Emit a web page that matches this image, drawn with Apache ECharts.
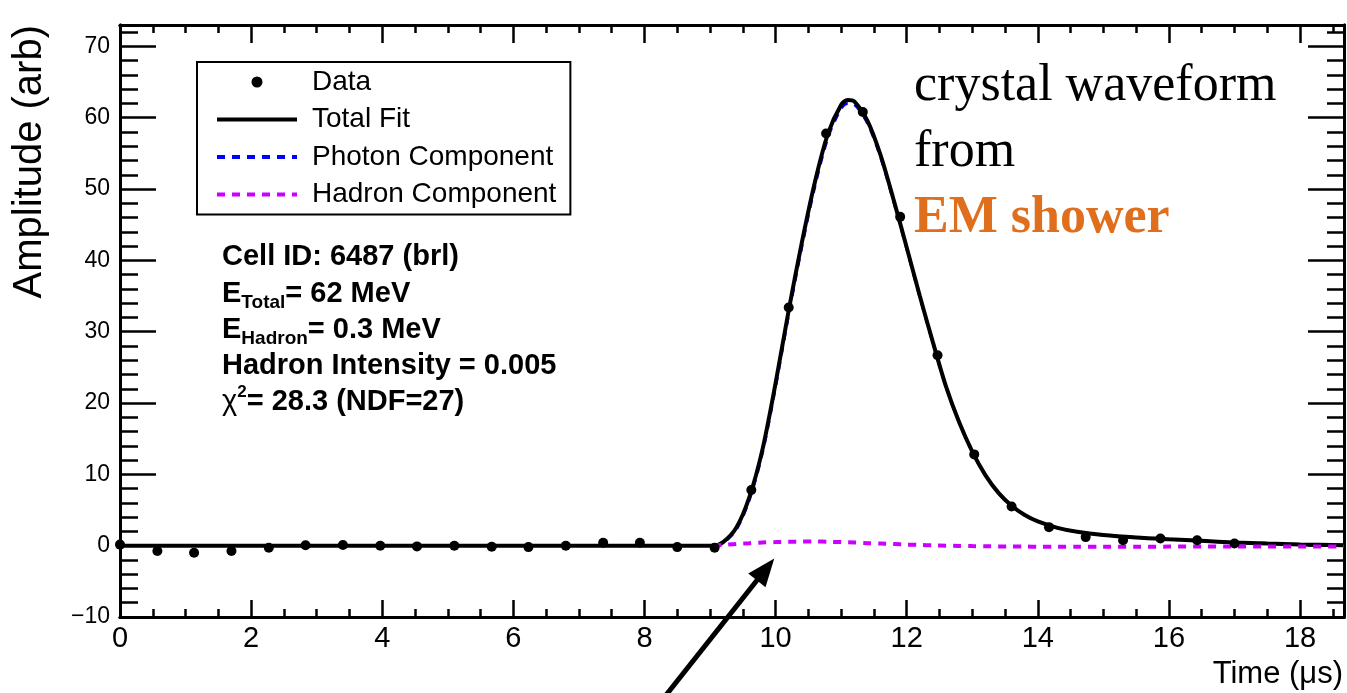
<!DOCTYPE html>
<html>
<head>
<meta charset="utf-8">
<script src="https://cdn.jsdelivr.net/npm/echarts@6/dist/echarts.min.js"></script>
<style>
html,body{margin:0;padding:0;background:#fff;}
#chart{width:1347px;height:693px;}
</style>
</head>
<body>
<div id="chart"></div>
<script>
// ---- data ----
const sampleTimes = [0.00, 0.57, 1.13, 1.70, 2.27, 2.83, 3.40, 3.97, 4.53, 5.10, 5.67, 6.23, 6.80, 7.37, 7.93, 8.50,
                     9.07, 9.63, 10.20, 10.77, 11.33, 11.90, 12.47, 13.03, 13.60, 14.17, 14.73, 15.30, 15.87, 16.43, 17.00];
const sampleAmps  = [0.15, -0.75, -1.0, -0.75, -0.3, 0.05, 0.1, 0.0, -0.1, 0.0, -0.15, -0.2, 0.0, 0.4, 0.4, -0.2,
                     -0.3, 7.8, 33.4, 57.8, 60.8, 46.1, 26.7, 12.8, 5.5, 2.6, 1.2, 0.75, 1.0, 0.75, 0.3];

const fitTimes  = [0, 9.05, 9.2, 9.4, 9.6, 9.8, 10.0, 10.2, 10.4, 10.6, 10.8, 11.0, 11.1, 11.2, 11.4, 11.6, 11.8, 12.0,
                   12.2, 12.4, 12.6, 12.8, 13.0, 13.2, 13.4, 13.6, 13.8, 14.0, 14.3, 14.6, 15.0, 15.5, 16.0, 16.5,
                   17.0, 17.5, 18.0, 18.67];
const totalFit  = [0, 0, 0.5, 2.5, 6.8, 13.5, 22.8, 33.0, 42.5, 51.0, 57.8, 61.8, 62.5, 62.3, 59.6, 54.8, 48.5, 41.8,
                   35.0, 28.5, 22.3, 17.3, 13.2, 9.9, 7.4, 5.6, 4.3, 3.4, 2.5, 1.95, 1.5, 1.15, 0.9, 0.68,
                   0.45, 0.3, 0.17, 0.06];

const compTimes = [9.05, 9.2, 9.4, 9.6, 9.8, 10.0, 10.2, 10.4, 10.6, 10.8, 11.0, 11.1, 11.2, 11.4, 11.6, 11.8, 12.0,
                   12.2, 12.4, 12.6, 12.8, 13.0, 13.2, 13.4, 13.6, 13.8, 14.0, 14.3, 14.6, 15.0, 15.5, 16.0, 16.5,
                   17.0, 17.5, 18.0, 18.67];
const photonFit = [0, 0.4, 2.25, 6.45, 13.05, 22.3, 32.45, 41.9, 50.4, 57.25, 61.3, 62.0, 61.85, 59.25, 54.5, 48.3, 41.65,
                   34.9, 28.45, 22.3, 17.3, 13.2, 9.9, 7.4, 5.6, 4.3, 3.4, 2.5, 1.95, 1.5, 1.15, 0.9, 0.68,
                   0.45, 0.3, 0.17, 0.06];
const hadronFit = [0, 0.1, 0.25, 0.35, 0.45, 0.5, 0.55, 0.58, 0.6, 0.55, 0.5, 0.48, 0.45, 0.35, 0.3, 0.22, 0.15,
                   0.1, 0.05, 0.0, -0.03, -0.06, -0.08, -0.1, -0.12, -0.13, -0.14, -0.15, -0.15, -0.15, -0.15, -0.13, -0.12,
                   -0.1, -0.1, -0.1, -0.1];

const xMin = 0, xMax = 18.67, xMajor = 2, xMinor = 0.5;
const yMin = -10, yMax = 73, yMajor = 10, yMinor = 2;

const infoLines = ['Cell ID: 6487 (brl)', 'E|Total|= 62 MeV', 'E|Hadron|= 0.3 MeV', 'Hadron Intensity = 0.005', 'χ|2|= 28.3 (NDF=27)'];
const noteLines = ['crystal waveform', 'from', 'EM shower'];
const arrowTip = [9.98, -1.8];

// ---- helpers ----
const SANS = '"Liberation Sans", Arial, Helvetica, sans-serif';
const SERIF = '"Liberation Serif", "Times New Roman", serif';
function pairs(xs, ys) { return xs.map((x, i) => [x, ys[i]]); }

const chart = echarts.init(document.getElementById('chart'), null, {renderer: 'canvas'});

function xAxisDef(pos, interval, tickLen, showLabel, extra) {
  return Object.assign({
    type: 'value', position: pos, min: xMin, max: xMax, interval: interval,
    axisLine: {show: true, onZero: false, lineStyle: {color: '#000', width: 3}},
    axisTick: {show: true, inside: true, length: tickLen, lineStyle: {color: '#000', width: 2.5}},
    axisLabel: {show: showLabel},
    splitLine: {show: false}
  }, extra || {});
}
function yAxisDef(pos, interval, tickLen, showLabel, extra) {
  return Object.assign({
    type: 'value', position: pos, min: yMin, max: yMax, interval: interval,
    axisLine: {show: true, onZero: false, lineStyle: {color: '#000', width: 3}},
    axisTick: {show: true, inside: true, length: tickLen, lineStyle: {color: '#000', width: 2.5}},
    axisLabel: {show: showLabel},
    splitLine: {show: false}
  }, extra || {});
}

const option = {
  animation: false,
  backgroundColor: '#fff',
  grid: {left: 120, right: 2, top: 25, bottom: 76, containLabel: false},
  xAxis: [
    xAxisDef('bottom', xMajor, 17, true, {
      axisLabel: {show: true, margin: 7, color: '#000', fontSize: 29, fontFamily: SANS,
        formatter: v => (Math.abs(v / xMajor - Math.round(v / xMajor)) < 1e-6 ? String(Math.round(v)) : '')},
      name: 'Time (μs)', nameLocation: 'end', nameGap: -1,
      nameTextStyle: {fontSize: 31, fontFamily: SANS, color: '#000', align: 'right', verticalAlign: 'top', padding: [42, 0, 0, 0]}
    }),
    xAxisDef('bottom', xMinor, 8, false),
    xAxisDef('top', xMajor, 18, false),
    xAxisDef('top', xMinor, 8, false)
  ],
  yAxis: [
    yAxisDef('left', yMajor, 36, true, {
      axisLabel: {show: true, margin: 10, color: '#000', fontSize: 23, fontFamily: SANS,
        formatter: v => (Math.abs(v / yMajor - Math.round(v / yMajor)) < 1e-6 ? String(Math.round(v)).replace('-', '\u2212') : '')},
      name: 'Amplitude (arb)', nameLocation: 'end', nameGap: 0, nameRotate: 90,
      nameTextStyle: {fontSize: 40, fontFamily: SANS, color: '#000', align: 'right', verticalAlign: 'bottom', padding: [0, 0, 70, 0]}
    }),
    yAxisDef('left', yMinor, 18, false),
    yAxisDef('right', yMajor, 36, false),
    yAxisDef('right', yMinor, 17, false)
  ],
  legend: {
    orient: 'vertical', left: 197, top: 62,
    padding: [6, 14, 6, 18],
    itemWidth: 80, itemHeight: 11, itemGap: 9.5,
    borderColor: '#000', borderWidth: 2, backgroundColor: '#fff',
    selectedMode: false,
    textStyle: {fontFamily: SANS, fontSize: 28, color: '#000', lineHeight: 27, padding: [0, 0, 0, 10]},
    itemStyle: {opacity: 0},
    lineStyle: {width: 'inherit'},
    data: [{name: 'Data', itemStyle: {opacity: 1}}, 'Total Fit',
           {name: 'Photon Component', lineStyle: {width: 4}}, 'Hadron Component']
  },
  series: [
    {
      name: 'Photon Component', type: 'line', xAxisIndex: 0, yAxisIndex: 0,
      data: pairs(compTimes, photonFit), smooth: 0.3, symbol: 'none', z: 2,
      lineStyle: {color: '#0000ff', width: 3, type: [8, 7]}, itemStyle: {color: '#0000ff'}
    },
    {
      name: 'Total Fit', type: 'line', xAxisIndex: 0, yAxisIndex: 0,
      data: pairs(fitTimes, totalFit), smooth: 0.3, symbol: 'none', z: 3,
      lineStyle: {color: '#000', width: 4}, itemStyle: {color: '#000'}
    },
    {
      name: 'Hadron Component', type: 'line', xAxisIndex: 0, yAxisIndex: 0,
      data: pairs(compTimes, hadronFit), smooth: 0.3, symbol: 'none', z: 4,
      lineStyle: {color: '#cc00ff', width: 4, type: [8, 7]}, itemStyle: {color: '#cc00ff'}
    },
    {
      name: 'Data', type: 'scatter', xAxisIndex: 0, yAxisIndex: 0,
      data: pairs(sampleTimes, sampleAmps), symbol: 'circle', symbolSize: 10, z: 5,
      itemStyle: {color: '#000', opacity: 1}
    }
  ]
};
chart.setOption(option);

// ---- annotations ----
const graphics = [];
const infoY = [257, 294, 330, 366, 402];
const richStyles = {
  b: {fontFamily: SANS, fontWeight: 'bold', fontSize: 29, lineHeight: 36, fill: '#000', verticalAlign: 'middle'},
  s: {fontFamily: SANS, fontWeight: 'bold', fontSize: 19, lineHeight: 37, fill: '#000', verticalAlign: 'bottom'},
  p: {fontFamily: SANS, fontWeight: 'bold', fontSize: 17, lineHeight: 36, fill: '#000', verticalAlign: 'top'},
  c: {fontFamily: SANS, fontWeight: 'normal', fontSize: 29, lineHeight: 36, fill: '#000', verticalAlign: 'middle'}
};
infoLines.forEach((line, i) => {
  const parts = line.split('|');
  let txt;
  if (parts.length === 1) txt = '{b|' + parts[0] + '}';
  else if (parts[0] === 'χ') txt = '{c|' + parts[0] + '}{p|' + parts[1] + '}{b|' + parts[2] + '}';
  else txt = '{b|' + parts[0] + '}{s|' + parts[1] + '}{b|' + parts[2] + '}';
  graphics.push({
    type: 'text', x: 222, y: infoY[i], z: 20,
    style: {text: txt, rich: richStyles, align: 'left', verticalAlign: 'middle', fill: '#000'}
  });
});
const noteY = [86, 152, 219];
noteLines.forEach((t, i) => {
  graphics.push({
    type: 'text', x: 914, y: noteY[i], z: 20,
    style: {text: t, fontFamily: SERIF, fontSize: 52, fontWeight: i === 2 ? 'bold' : 'normal',
      fill: i === 2 ? '#df6f1c' : '#000', align: 'left', verticalAlign: 'middle'}
  });
});

// arrow pointing at the hadron component
const tip = chart.convertToPixel({xAxisIndex: 0, yAxisIndex: 0}, arrowTip);
const dir = [107, -135];
const len = Math.hypot(dir[0], dir[1]);
const u = [dir[0] / len, dir[1] / len];
const nrm = [-u[1], u[0]];
const headLen = 28, headHalf = 11;
const base = [tip[0] - u[0] * headLen, tip[1] - u[1] * headLen];
const tail = [tip[0] - u[0] * 200, tip[1] - u[1] * 200];
graphics.push({
  type: 'line', z: 30,
  shape: {x1: tail[0], y1: tail[1], x2: base[0] + u[0] * 4, y2: base[1] + u[1] * 4},
  style: {stroke: '#000', lineWidth: 5}
});
graphics.push({
  type: 'polygon', z: 30,
  shape: {points: [tip, [base[0] + nrm[0] * headHalf, base[1] + nrm[1] * headHalf], [base[0] - nrm[0] * headHalf, base[1] - nrm[1] * headHalf]]},
  style: {fill: '#000'}
});
chart.setOption({graphic: graphics});
</script>
</body>
</html>
